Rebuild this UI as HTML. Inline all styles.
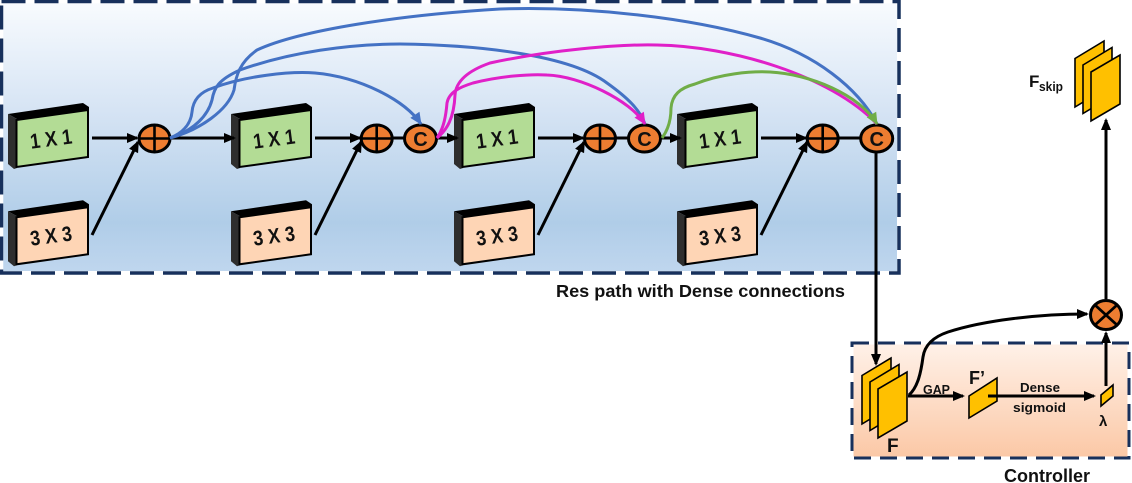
<!DOCTYPE html>
<html><head><meta charset="utf-8">
<style>
html,body{margin:0;padding:0;background:#fff;width:1132px;height:483px;overflow:hidden}
svg{display:block}
text{font-family:"Liberation Sans",sans-serif;font-weight:bold;fill:#111}
</style></head><body>
<svg width="1132" height="483" viewBox="0 0 1132 483" xmlns="http://www.w3.org/2000/svg">
<defs>
<linearGradient id="g1" x1="0" y1="0" x2="0" y2="1">
<stop offset="0" stop-color="#f8fbfe"/><stop offset="0.4" stop-color="#d6e4f4"/><stop offset="0.82" stop-color="#b0cde8"/><stop offset="1" stop-color="#bfd6ee"/>
</linearGradient>
<linearGradient id="g2" x1="0" y1="0" x2="0" y2="1">
<stop offset="0" stop-color="#fff1e8"/><stop offset="1" stop-color="#fbc8a6"/>
</linearGradient>
<marker id="mk" markerUnits="userSpaceOnUse" markerWidth="14" markerHeight="12" refX="11" refY="6" orient="auto"><path d="M1,1 L13,6 L1,11 Z" fill="#000"/></marker>
<marker id="mb" markerUnits="userSpaceOnUse" markerWidth="14" markerHeight="12" refX="12" refY="6" orient="auto"><path d="M1,0.5 L13,6 L1,11.5 Z" fill="#4472c4"/></marker>
<marker id="mm" markerUnits="userSpaceOnUse" markerWidth="14" markerHeight="12" refX="12" refY="6" orient="auto"><path d="M1,0.5 L13,6 L1,11.5 Z" fill="#e020c8"/></marker>
<marker id="mg" markerUnits="userSpaceOnUse" markerWidth="14" markerHeight="12" refX="12" refY="6" orient="auto"><path d="M1,0.5 L13,6 L1,11.5 Z" fill="#70ad47"/></marker>
<g id="blockShape">
<polygon points="8,114 83,103 89,107 89,112 17,122 17,119" fill="#000"/>
<polygon points="8,114 17,119 17,168 14,169 8,164" fill="#2e2e2e"/>
<polygon points="16.5,120 88,110 88,157 16.5,167" fill="currentColor" stroke="#000" stroke-width="2"/>
</g>
<g id="stack3">
<polygon points="0,17.5 29,0 29,48.5 0,66" fill="#ffc000" stroke="#000" stroke-width="1.6"/>
<polygon points="8,24 37,6.5 37,55 8,72.5" fill="#ffc000" stroke="#000" stroke-width="1.6"/>
<polygon points="16,31 45,14 45,63 16,80" fill="#ffc000" stroke="#000" stroke-width="1.6"/>
</g>
<g id="plus">
<ellipse cx="0" cy="0" rx="15.5" ry="13.5" fill="#ed7d31" stroke="#000" stroke-width="3"/>
<path d="M-15,0H15M0,-13V13" stroke="#000" stroke-width="2.6" fill="none"/>
</g>
<ellipse id="conc" cx="0" cy="0" rx="16" ry="13.5" fill="#ed7d31" stroke="#000" stroke-width="3"/>
</defs>

<rect width="1132" height="483" fill="#fff"/>

<rect x="3" y="3" width="894" height="268" fill="url(#g1)"/>
<rect x="1.5" y="1.5" width="897.5" height="271.5" fill="none" stroke="#fff" stroke-width="3.5"/>
<rect x="1.5" y="1.5" width="897.5" height="271.5" fill="none" stroke="#17305c" stroke-width="3.5" stroke-dasharray="24 9"/>
<rect x="853" y="344" width="275" height="113" fill="url(#g2)"/>
<rect x="852" y="343" width="277" height="115" fill="none" stroke="#fff" stroke-width="3"/>
<rect x="852" y="343" width="277" height="115" fill="none" stroke="#17305c" stroke-width="3" stroke-dasharray="17 9"/>

<g color="#b3dc95">
<use href="#blockShape"/><use href="#blockShape" x="223"/><use href="#blockShape" x="446"/><use href="#blockShape" x="669"/>
</g>
<g color="#fed5b5">
<use href="#blockShape" y="97.3"/><use href="#blockShape" x="223" y="97.3"/><use href="#blockShape" x="446" y="97.3"/><use href="#blockShape" x="669" y="97.3"/>
</g>

<g font-size="21" text-anchor="middle">
<text transform="translate(52,146) rotate(-7.5)" textLength="42" lengthAdjust="spacingAndGlyphs">1 X 1</text>
<text transform="translate(275,146) rotate(-7.5)" textLength="42" lengthAdjust="spacingAndGlyphs">1 X 1</text>
<text transform="translate(498,146) rotate(-7.5)" textLength="42" lengthAdjust="spacingAndGlyphs">1 X 1</text>
<text transform="translate(721,146) rotate(-7.5)" textLength="42" lengthAdjust="spacingAndGlyphs">1 X 1</text>
<text transform="translate(52,243) rotate(-7.5)" textLength="42" lengthAdjust="spacingAndGlyphs">3 X 3</text>
<text transform="translate(275,243) rotate(-7.5)" textLength="42" lengthAdjust="spacingAndGlyphs">3 X 3</text>
<text transform="translate(498,243) rotate(-7.5)" textLength="42" lengthAdjust="spacingAndGlyphs">3 X 3</text>
<text transform="translate(721,243) rotate(-7.5)" textLength="42" lengthAdjust="spacingAndGlyphs">3 X 3</text>
</g>

<g stroke="#000" stroke-width="3" fill="none">
<path d="M92,138H137" marker-end="url(#mk)"/>
<path d="M315,138H360" marker-end="url(#mk)"/>
<path d="M538,138H583" marker-end="url(#mk)"/>
<path d="M761,138H806" marker-end="url(#mk)"/>
<path d="M92,235L138,142" marker-end="url(#mk)"/>
<path d="M315,235L361,142" marker-end="url(#mk)"/>
<path d="M538,235L584,142" marker-end="url(#mk)"/>
<path d="M761,235L807,142" marker-end="url(#mk)"/>
<path d="M170,138H234" marker-end="url(#mk)"/>
<path d="M437,138H457" marker-end="url(#mk)"/>
<path d="M660,138H680" marker-end="url(#mk)"/>
<path d="M392,138H405M615,138H628M838,138H861"/>
<path d="M876,152V364" marker-end="url(#mk)"/>
<path d="M908,396H963" marker-end="url(#mk)"/>
<path d="M988,396H1094" marker-end="url(#mk)"/>
<path d="M1106,386V333" marker-end="url(#mk)"/>
<path d="M1106,299V120" marker-end="url(#mk)"/>
<path d="M909,395C918,387 921,372 923,357C925,343 936,336 948,332C985,320 1040,314 1087,314" marker-end="url(#mk)"/>
</g>

<use href="#plus" x="154.5" y="138.5"/>
<use href="#plus" x="376.7" y="138.5"/>
<use href="#plus" x="600" y="138.5"/>
<use href="#plus" x="822.7" y="138.5"/>
<use href="#conc" x="420.5" y="138.5"/>
<use href="#conc" x="644.5" y="138.5"/>
<use href="#conc" x="876.7" y="138.5"/>
<g font-size="20" text-anchor="middle">
<text x="420.5" y="146">C</text>
<text x="644.5" y="146">C</text>
<text x="876.7" y="146">C</text>
</g>

<g fill="none" stroke-width="3">
<g stroke="#4472c4">
<path d="M170,138C185,132 191,122 192,112C193,100 200,92 213,88C245,76 290,71 315,73C360,77 405,100 421,124" marker-end="url(#mb)"/>
<path d="M170,138C195,130 208,115 212,100C214,88 218,80 240,70C290,52 350,44 400,44C480,45 570,55 607,83C628,98 640,110 645,124"/>
<path d="M170,138C200,130 228,110 234,90C236,75 240,62 257,50C300,30 400,15 500,9C590,6 690,18 760,38C815,54 858,88 877,124"/>
</g>
<g stroke="#e020c8">
<path d="M437,138C444,128 446,115 447,103C449,92 460,87 473,83C500,76 530,74 547,75C580,76 630,100 645,124" marker-end="url(#mm)"/>
<path d="M437,138C447,130 454,118 455,95C456,80 470,70 490,63C550,50 620,44 657,45C730,46 830,75 877,124"/>
</g>
<path stroke="#70ad47" d="M662,138C668,130 671,120 671,108C672,95 680,88 695,84C720,74 750,71 770,72C810,74 860,95 877,124" marker-end="url(#mg)"/>
</g>

<use href="#stack3" x="862" y="358"/>
<use href="#stack3" x="1075" y="41"/>
<polygon points="969,396 997,378 997,401 969,418" fill="#ffc000" stroke="#000" stroke-width="1.6"/>
<path d="M988,396H1000" stroke="#000" stroke-width="3"/>
<polygon points="1101,395 1113,385 1113,396 1101,406" fill="#ffc000" stroke="#000" stroke-width="1.6"/>

<ellipse cx="1106" cy="315" rx="15.5" ry="14.5" fill="#ed7d31" stroke="#000" stroke-width="3"/>
<path d="M1095,305L1117,325M1117,305L1095,325" stroke="#000" stroke-width="2.8"/>

<text x="556" y="297" font-size="17.5" textLength="289" lengthAdjust="spacingAndGlyphs">Res path with Dense connections</text>
<text x="1004" y="482" font-size="18" textLength="86" lengthAdjust="spacingAndGlyphs">Controller</text>
<text x="923" y="394" font-size="12.5" textLength="27" lengthAdjust="spacingAndGlyphs">GAP</text>
<text x="1020" y="392" font-size="13" textLength="40" lengthAdjust="spacingAndGlyphs">Dense</text>
<text x="1013" y="412" font-size="13" textLength="53" lengthAdjust="spacingAndGlyphs">sigmoid</text>
<text x="969" y="384" font-size="18">F’</text>
<text x="887" y="452" font-size="19">F</text>
<text x="1099" y="426" font-size="15">λ</text>
<text x="1029" y="87" font-size="17">F</text>
<text x="1039" y="91" font-size="13" font-weight="normal" textLength="24" lengthAdjust="spacingAndGlyphs">skip</text>
</svg>
</body></html>
